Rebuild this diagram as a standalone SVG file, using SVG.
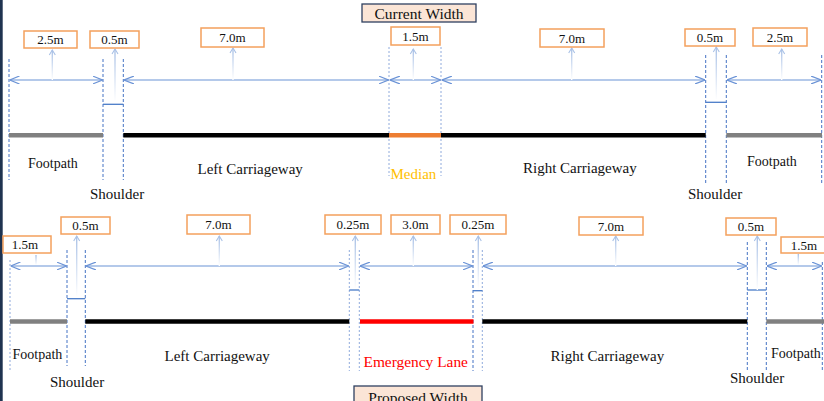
<svg xmlns="http://www.w3.org/2000/svg" width="824" height="401" viewBox="0 0 824 401">
<defs>
<style>
text{font-family:"Liberation Serif","Times New Roman",serif;fill:#111}
.lbl rect{fill:#fff;stroke:#f4a05c;stroke-width:1.5}
.lbl text{font-size:13px;text-anchor:middle}
.ttl rect{fill:#fbe5d6;stroke:#2f4060;stroke-width:1.3}
.ttl text{font-size:15.5px;text-anchor:middle}
.seg{font-size:15px}
.fp{font-size:14px}
.dash{stroke:#4472c4;stroke-width:1;stroke-dasharray:3 2;fill:none}
.dashl{stroke:#8faadc;stroke-width:1;stroke-dasharray:2 2;fill:none}
.dim{stroke:#6b93d6;stroke-width:1.2;fill:none;marker-start:url(#ah);marker-end:url(#ah)}
.sh{stroke:#4a7cc8;stroke-width:1.3;fill:none}
.ptr{fill:url(#fade)}
.ph{stroke:#a9c1e6;stroke-width:1.1;fill:none}
.road{stroke-width:4.5;fill:none}
</style>
<marker id="ah" viewBox="0 0 10 8" markerUnits="userSpaceOnUse" markerWidth="10" markerHeight="8" refX="10" refY="4" orient="auto-start-reverse">
<path d="M0,0 L10,4 L0,8" fill="none" stroke="#6b93d6" stroke-width="1.2"/>
</marker>
<linearGradient id="fade" x1="0" y1="0" x2="0" y2="1">
<stop offset="0" stop-color="#a9c1e6"/>
<stop offset="1" stop-color="#ffffff"/>
</linearGradient>
</defs>
<rect x="0" y="0" width="824" height="401" fill="#fff"/>
<rect x="0" y="0" width="2.7" height="401" fill="#1f3350"/>

<g id="connectors">
<!-- top dashed guides -->
<line class="dash" x1="9" y1="59" x2="9" y2="180"/>
<line class="dash" x1="103" y1="59" x2="103" y2="180"/>
<line class="dash" x1="123.3" y1="59" x2="123.3" y2="180"/>
<line class="dashl" x1="389" y1="47" x2="389" y2="176"/>
<line class="dashl" x1="441" y1="47" x2="441" y2="176"/>
<line class="dash" x1="705.7" y1="55" x2="705.7" y2="183"/>
<line class="dash" x1="726.3" y1="55" x2="726.3" y2="183"/>
<line class="dash" x1="821.7" y1="55" x2="821.7" y2="183"/>
<!-- top dimension arrows -->
<line class="dim" x1="9.5" y1="80" x2="102.5" y2="80"/>
<line class="dim" x1="124" y1="80" x2="388.5" y2="80"/>
<line class="dim" x1="390" y1="80" x2="440.5" y2="80"/>
<line class="dim" x1="442" y1="80" x2="705" y2="80"/>
<line class="dim" x1="727" y1="80" x2="821" y2="80"/>
<line class="sh" x1="103" y1="104.3" x2="123.3" y2="104.3"/>
<line class="sh" x1="705.7" y1="102.3" x2="726.3" y2="102.3"/>
<!-- top pointers -->
<rect class="ptr" x="51.6" y="50" width="1.4" height="30"/><polyline class="ph" points="49.3,55 52.3,50 55.3,55"/>
<rect class="ptr" x="114.3" y="49" width="1.4" height="53"/><polyline class="ph" points="112,54 115,49 118,54"/>
<rect class="ptr" x="232.3" y="48" width="1.4" height="32"/><polyline class="ph" points="230,53 233,48 236,53"/>
<rect class="ptr" x="412.6" y="49" width="1.4" height="31"/><polyline class="ph" points="410.3,54 413.3,49 416.3,54"/>
<rect class="ptr" x="571" y="48" width="1.4" height="32"/><polyline class="ph" points="568.7,53 571.7,48 574.7,53"/>
<rect class="ptr" x="715.6" y="47" width="1.4" height="53"/><polyline class="ph" points="713.3,52 716.3,47 719.3,52"/>
<rect class="ptr" x="781" y="49" width="1.4" height="31"/><polyline class="ph" points="778.7,54 781.7,49 784.7,54"/>

<!-- bottom dashed guides -->
<line class="dashl" x1="10" y1="260" x2="10" y2="370"/>
<line class="dash" x1="67" y1="250" x2="67" y2="366"/>
<line class="dash" x1="85.3" y1="250" x2="85.3" y2="366"/>
<line class="dashl" x1="349.3" y1="250" x2="349.3" y2="371"/>
<line class="dashl" x1="359.3" y1="250" x2="359.3" y2="371"/>
<line class="dash" x1="473" y1="250" x2="473" y2="371"/>
<line class="dashl" x1="482.3" y1="250" x2="482.3" y2="371"/>
<line class="dash" x1="747.3" y1="242" x2="747.3" y2="370"/>
<line class="dash" x1="766.3" y1="242" x2="766.3" y2="370"/>
<line class="dash" x1="822.3" y1="262" x2="822.3" y2="370"/>
<!-- bottom dimension arrows -->
<line class="dim" x1="10.5" y1="266" x2="66.5" y2="266"/>
<line class="dim" x1="86" y1="266" x2="348.8" y2="266"/>
<line class="dim" x1="360" y1="266" x2="472.5" y2="266"/>
<line class="dim" x1="483" y1="266" x2="746.8" y2="266"/>
<line class="dim" x1="767" y1="266" x2="821.8" y2="266"/>
<line class="sh" x1="67" y1="298.7" x2="85.3" y2="298.7"/>
<line class="sh" x1="349.3" y1="290" x2="359.3" y2="290"/>
<line class="sh" x1="473" y1="290.7" x2="482.3" y2="290.7"/>
<line class="sh" x1="747.3" y1="290" x2="766.3" y2="290"/>
<!-- bottom pointers -->
<rect class="ptr" x="35.3" y="255" width="1.4" height="10"/>
<rect class="ptr" x="76" y="236" width="1.4" height="61"/><polyline class="ph" points="73.7,241 76.7,236 79.7,241"/>
<rect class="ptr" x="218.6" y="236" width="1.4" height="30"/><polyline class="ph" points="216.3,241 219.3,236 222.3,241"/>
<rect class="ptr" x="354.6" y="236" width="1.4" height="53"/><polyline class="ph" points="352.3,241 355.3,236 358.3,241"/>
<rect class="ptr" x="412.6" y="236" width="1.4" height="30"/><polyline class="ph" points="410.3,241 413.3,236 416.3,241"/>
<rect class="ptr" x="477.6" y="236" width="1.4" height="53"/><polyline class="ph" points="475.3,241 478.3,236 481.3,241"/>
<rect class="ptr" x="615" y="236" width="1.4" height="30"/><polyline class="ph" points="612.7,241 615.7,236 618.7,241"/>
<rect class="ptr" x="756.6" y="236" width="1.4" height="54"/><polyline class="ph" points="754.3,241 757.3,236 760.3,241"/>
<rect class="ptr" x="797.6" y="254" width="1.4" height="11"/>
</g>

<!-- top section -->
<g id="title-current" class="ttl"><rect x="362" y="4" width="114" height="18"/><text x="419" y="19">Current Width</text></g>

<g id="top-footpath-left"><line class="road" x1="9" y1="135.3" x2="103" y2="135.3" stroke="#808080"/><text class="fp" x="28" y="168">Footpath</text></g>
<g id="top-shoulder-left"><text class="seg" x="90" y="198.5">Shoulder</text></g>
<g id="top-left-carriageway"><line class="road" x1="123.3" y1="135.3" x2="389" y2="135.3" stroke="#000"/><text class="seg" x="197.5" y="174">Left Carriageway</text></g>
<g id="top-median"><line class="road" x1="389" y1="135.3" x2="441" y2="135.3" stroke="#ed7d31"/><text class="seg" x="390.5" y="179" style="fill:#ffc000">Median</text></g>
<g id="top-right-carriageway"><line class="road" x1="441" y1="135.3" x2="705.7" y2="135.3" stroke="#000"/><text class="seg" x="523" y="173">Right Carriageway</text></g>
<g id="top-shoulder-right"><text class="seg" x="688" y="198.5">Shoulder</text></g>
<g id="top-footpath-right"><line class="road" x1="726.3" y1="135.3" x2="822" y2="135.3" stroke="#808080"/><text class="fp" x="747" y="166">Footpath</text></g>

<g id="lbl-t1" class="lbl"><rect x="24" y="31" width="53" height="17"/><text x="50.5" y="44">2.5m</text></g>
<g id="lbl-t2" class="lbl"><rect x="90" y="31" width="49" height="17"/><text x="114.5" y="44">0.5m</text></g>
<g id="lbl-t3" class="lbl"><rect x="201" y="28" width="63" height="19"/><text x="232.5" y="42">7.0m</text></g>
<g id="lbl-t4" class="lbl"><rect x="391" y="27" width="49" height="18"/><text x="415.5" y="40.5">1.5m</text></g>
<g id="lbl-t5" class="lbl"><rect x="540" y="29" width="64" height="18"/><text x="572" y="42.5">7.0m</text></g>
<g id="lbl-t6" class="lbl"><rect x="685" y="29" width="50" height="17"/><text x="710" y="42">0.5m</text></g>
<g id="lbl-t7" class="lbl"><rect x="753" y="28" width="54" height="18"/><text x="780" y="41.5">2.5m</text></g>

<!-- bottom section -->
<g id="bot-footpath-left"><line class="road" x1="10" y1="321.5" x2="67" y2="321.5" stroke="#808080"/><text class="fp" x="12.5" y="358.5">Footpath</text></g>
<g id="bot-shoulder-left"><text class="seg" x="50" y="386.5">Shoulder</text></g>
<g id="bot-left-carriageway"><line class="road" x1="85.3" y1="321.5" x2="349.3" y2="321.5" stroke="#000"/><text class="seg" x="164.5" y="361">Left Carriageway</text></g>
<g id="bot-emergency-lane"><line class="road" x1="360" y1="321.5" x2="473.5" y2="321.5" stroke="#ff0000"/><text x="363.5" y="367" style="fill:#ff0000;font-size:15.4px">Emergency Lane</text></g>
<g id="bot-right-carriageway"><line class="road" x1="482.3" y1="321.5" x2="747.3" y2="321.5" stroke="#000"/><text class="seg" x="550.5" y="361">Right Carriageway</text></g>
<g id="bot-shoulder-right"><text class="seg" x="730" y="382.5">Shoulder</text></g>
<g id="bot-footpath-right"><line class="road" x1="766.3" y1="321.5" x2="824" y2="321.5" stroke="#808080"/><text class="fp" x="771" y="357.5">Footpath</text></g>

<g id="lbl-b1" class="lbl"><rect x="3" y="236" width="48" height="17"/><text x="25" y="249">1.5m</text></g>
<g id="lbl-b2" class="lbl"><rect x="61" y="217" width="49" height="17"/><text x="85.5" y="230">0.5m</text></g>
<g id="lbl-b3" class="lbl"><rect x="187" y="215" width="63" height="19"/><text x="218.5" y="229">7.0m</text></g>
<g id="lbl-b4" class="lbl"><rect x="325" y="215" width="56" height="19"/><text x="353" y="229">0.25m</text></g>
<g id="lbl-b5" class="lbl"><rect x="391" y="215" width="49" height="19"/><text x="415.5" y="229">3.0m</text></g>
<g id="lbl-b6" class="lbl"><rect x="450" y="215" width="56" height="19"/><text x="478" y="229">0.25m</text></g>
<g id="lbl-b7" class="lbl"><rect x="579" y="217" width="64" height="18"/><text x="611" y="230.5">7.0m</text></g>
<g id="lbl-b8" class="lbl"><rect x="726" y="218" width="50" height="17"/><text x="751" y="231">0.5m</text></g>
<g id="lbl-b9" class="lbl"><rect x="781" y="237" width="54" height="16"/><text x="804" y="249.5">1.5m</text></g>

<g id="title-proposed" class="ttl"><rect x="354" y="386" width="128" height="20"/><text x="418" y="403">Proposed Width</text></g>
</svg>
